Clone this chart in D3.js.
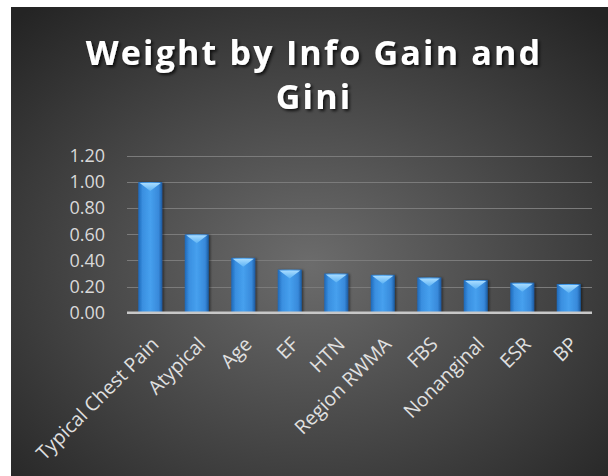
<!DOCTYPE html>
<html>
<head>
<meta charset="utf-8">
<script src="https://cdn.jsdelivr.net/npm/d3@7"></script>
<style>
  body { margin: 0; background: #fff; }
  svg { display: block; }
</style>
</head>
<body>
<div id="chart"></div>
<script>
// Chart data
var categories = ["Typical Chest Pain", "Atypical", "Age", "EF", "HTN", "Region RWMA", "FBS", "Nonanginal", "ESR", "BP"];
var weights = [1.00, 0.60, 0.42, 0.33, 0.30, 0.29, 0.27, 0.25, 0.23, 0.22];
var yTicks = [0, 0.2, 0.4, 0.6, 0.8, 1.0, 1.2];
var titleLines = ["Weight by Info Gain and", "Gini"];

var width = 608;
var height = 476;
var plot = { left: 127, right: 592, top: 156, bottom: 312.7 };

var svg = d3.select("#chart")
    .append("svg")
    .attr("width", width)
    .attr("height", height);

var defs = svg.append("defs");

// dark radial background like the Excel style
var bg = defs.append("radialGradient")
    .attr("id", "bg")
    .attr("cx", "50%").attr("cy", "55%").attr("r", "72%");
bg.append("stop").attr("offset", "0%").attr("stop-color", "#6c6c6c");
bg.append("stop").attr("offset", "100%").attr("stop-color", "#242424");

var barGrad = defs.append("linearGradient")
    .attr("id", "barGrad")
    .attr("x1", "0").attr("x2", "1").attr("y1", "0").attr("y2", "0");
barGrad.append("stop").attr("offset", "0%").attr("stop-color", "#1d68b8");
barGrad.append("stop").attr("offset", "18%").attr("stop-color", "#3a8fe0");
barGrad.append("stop").attr("offset", "50%").attr("stop-color", "#46a0ee");
barGrad.append("stop").attr("offset", "85%").attr("stop-color", "#3889da");
barGrad.append("stop").attr("offset", "100%").attr("stop-color", "#1a5aa0");

var capGrad = defs.append("linearGradient")
    .attr("id", "capGrad")
    .attr("x1", "0").attr("x2", "0").attr("y1", "0").attr("y2", "1");
capGrad.append("stop").attr("offset", "0%").attr("stop-color", "#a8dcff");
capGrad.append("stop").attr("offset", "100%").attr("stop-color", "#5cb2f4");

var shadow = defs.append("filter").attr("id", "shadow")
    .attr("x", "-10%").attr("y", "-20%").attr("width", "130%").attr("height", "150%");
shadow.append("feDropShadow")
    .attr("dx", 2).attr("dy", 2).attr("stdDeviation", 1.6)
    .attr("flood-color", "#000").attr("flood-opacity", 0.75);

var barShadow = defs.append("filter").attr("id", "barShadow")
    .attr("x", "-20%").attr("y", "-10%").attr("width", "150%").attr("height", "120%");
barShadow.append("feDropShadow")
    .attr("dx", 1.5).attr("dy", 0.5).attr("stdDeviation", 1)
    .attr("flood-color", "#000").attr("flood-opacity", 0.5);

svg.append("rect")
    .attr("x", 11).attr("y", 7)
    .attr("width", width - 11).attr("height", height - 7)
    .attr("fill", "url(#bg)");

// Scales
var x = d3.scaleBand()
    .domain(categories)
    .range([plot.left, plot.right])
    .paddingInner(0.484)
    .paddingOuter(0.242);

var y = d3.scaleLinear()
    .domain([0, 1.2])
    .range([plot.bottom, plot.top]);

// Gridlines
svg.append("g")
    .selectAll("line")
    .data(yTicks.slice(1))
    .enter().append("line")
    .attr("x1", plot.left).attr("x2", plot.right)
    .attr("y1", function(d) { return Math.round(y(d)) + 0.5; })
    .attr("y2", function(d) { return Math.round(y(d)) + 0.5; })
    .attr("stroke", "#7b7b7b")
    .attr("stroke-width", 1);

// Y axis labels
var yAxis = svg.append("g")
    .attr("transform", "translate(" + (plot.left - 22) + ",0)")
    .call(d3.axisLeft(y).tickValues(yTicks).tickFormat(d3.format(".2f")).tickSize(0).tickPadding(0));
yAxis.select(".domain").remove();
yAxis.selectAll("text")
    .attr("fill", "#d9d9d9")
    .style("font-family", "'Open Sans', sans-serif")
    .style("font-size", "18px");

// Bars
var bars = svg.append("g").selectAll("g.bar")
    .data(weights)
    .enter().append("g")
    .attr("class", "bar");

bars.append("rect")
    .attr("x", function(d, i) { return x(categories[i]); })
    .attr("y", function(d) { return y(d); })
    .attr("width", x.bandwidth())
    .attr("height", function(d) { return y(0) - y(d); })
    .attr("fill", "url(#barGrad)")
    .attr("filter", "url(#barShadow)");

bars.append("path")
    .attr("d", function(d, i) {
        var x0 = x(categories[i]) + 1.5, x1 = x(categories[i]) + x.bandwidth() - 1.5;
        var t = y(d) + 1;
        return "M" + x0 + "," + t + "L" + x1 + "," + t + "L" + (x0 + x1) / 2 + "," + (t + 8) + "Z";
    })
    .attr("fill", "url(#capGrad)");

// Axis baseline
svg.append("line")
    .attr("x1", plot.left).attr("x2", plot.right)
    .attr("y1", y(0)).attr("y2", y(0))
    .attr("stroke", "#c8c8c8")
    .attr("stroke-width", 2.5);

// X axis labels, rotated
var xAxis = svg.append("g")
    .attr("transform", "translate(0," + y(0) + ")")
    .call(d3.axisBottom(x).tickSize(0).tickPadding(0));
xAxis.select(".domain").remove();
xAxis.selectAll("text")
    .attr("fill", "#e0e0e0")
    .style("font-family", "'Open Sans', sans-serif")
    .style("font-size", "19.5px")
    .style("text-anchor", "end")
    .attr("y", 0)
    .attr("dy", "0.35em")
    .attr("transform", "translate(5,28) rotate(-45)");

// Title
var title = svg.append("g").attr("filter", "url(#shadow)");
title.selectAll("text")
    .data(titleLines)
    .enter().append("text")
    .attr("x", 314)
    .attr("y", function(d, i) { return 65 + i * 44; })
    .attr("text-anchor", "middle")
    .attr("fill", "#ffffff")
    .style("font-family", "'Open Sans', sans-serif")
    .style("font-weight", "bold")
    .style("font-size", "34px")
    .style("letter-spacing", "2.2px")
    .text(function(d) { return d; });
</script>
</body>
</html>
